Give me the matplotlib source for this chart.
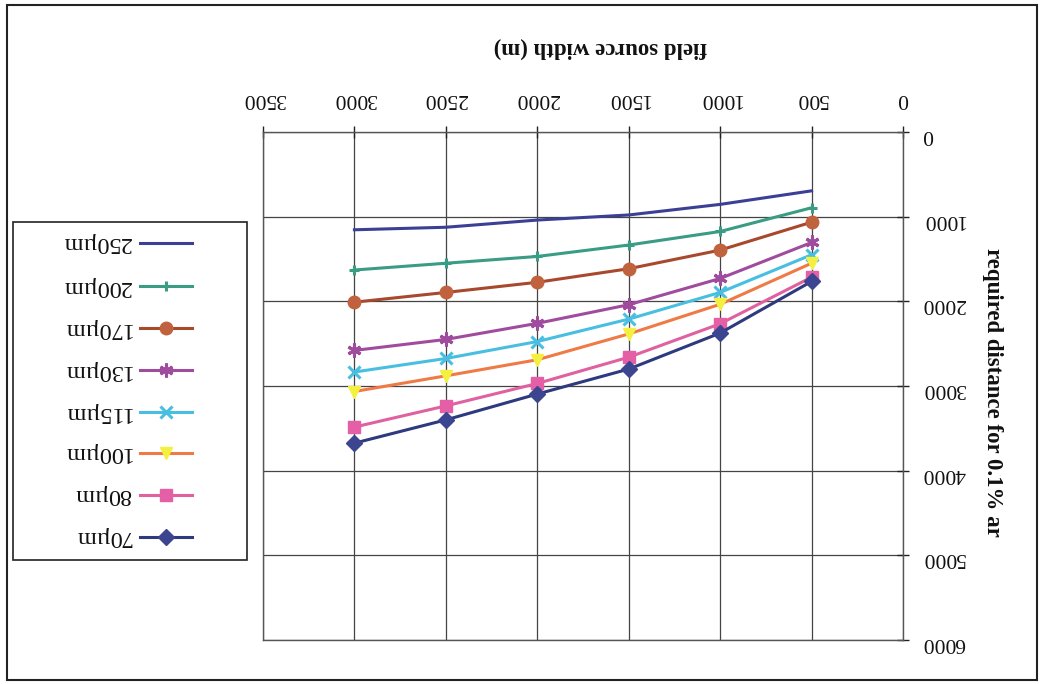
import matplotlib
matplotlib.use("Agg")
import matplotlib.pyplot as plt
from matplotlib.lines import Line2D
from matplotlib.patches import Rectangle

plt.rcParams['font.family'] = ['Liberation Serif', 'DejaVu Serif']

# Data (field source width in m, required distance in m)
widths = [500, 1000, 1500, 2000, 2500, 3000]
d_250 = [695, 855, 980, 1040, 1125, 1155]
d_200 = [895, 1175, 1335, 1470, 1550, 1630]
d_170 = [1065, 1395, 1615, 1775, 1895, 2010]
d_130 = [1305, 1730, 2040, 2260, 2450, 2580]
d_115 = [1450, 1895, 2210, 2475, 2675, 2835]
d_100 = [1550, 2035, 2385, 2690, 2880, 3065]
d_80 = [1715, 2265, 2660, 2970, 3235, 3485]
d_70 = [1765, 2375, 2800, 3095, 3400, 3675]

labels = ['250µm', '200µm', '170µm', '130µm', '115µm', '100µm', '80µm', '70µm']
series = [d_250, d_200, d_170, d_130, d_115, d_100, d_80, d_70]
line_colors = ['#3b3f95', '#3a9c84', '#a8482c', '#a04c9e', '#48bfe0', '#f07a45', '#e0619f', '#2e3a7e']
marker_faces = ['#3b3f95', '#3a9c84', '#c0623e', '#a04c9e', '#48bfe0', '#f4f040', '#e45fa6', '#3b4590']
markers = [None, '+', 'o', (6, 2, 0), 'x', 'v', 's', 'D']
msizes = [0, 7, 9, 10, 8, 9, 8, 8]

x_ticks = [0, 500, 1000, 1500, 2000, 2500, 3000, 3500]
y_ticks = [0, 1000, 2000, 3000, 4000, 5000, 6000]

W, H = 1042, 684
fig = plt.figure(figsize=(W / 100, H / 100), dpi=100)

def fx(px):
    return px / W

def fy(py):
    return 1 - py / H

def edge_width(mk):
    return 2.2 if mk in ('+', 'x') or isinstance(mk, tuple) else 1

def edge_color(mk, lc, mf):
    return lc if (mk in ('+', 'x') or isinstance(mk, tuple)) else mf

ax = fig.add_axes([fx(263), fy(640), fx(903) - fx(263), fy(132) - fy(640)])
ax.set_xlim(3500, 0)
ax.set_ylim(6000, 0)
ax.set_xticks(x_ticks)
ax.set_yticks(y_ticks)
ax.xaxis.tick_top()
ax.yaxis.tick_right()
ax.tick_params(axis='both', direction='inout', length=9, width=1, colors='#222222', labelsize=15.5, labelcolor='#111111')
ax.tick_params(axis='x', pad=13)
ax.tick_params(axis='y', pad=9)
for t in ax.get_xticklabels() + ax.get_yticklabels():
    t.set_rotation(180)
ax.grid(True, color='#444444', linewidth=0.9)
for s in ax.spines.values():
    s.set_color('#555555')
    s.set_linewidth(1)

for y, lab, lc, mf, mk, ms in zip(series, labels, line_colors, marker_faces, markers, msizes):
    ax.plot(widths, y, color=lc, linewidth=2.2, marker=mk if mk else None,
            markersize=ms, markerfacecolor=mf, markeredgecolor=edge_color(mk, lc, mf),
            markeredgewidth=edge_width(mk), zorder=3)

fig.text(fx(600), fy(48), 'field source width (m)', rotation=180, ha='center', va='center',
         fontsize=16.5, fontweight='bold', color='#111111')
fig.text(fx(993), fy(392), 'required distance for 0.1% ar', rotation=270, ha='center', va='center',
         fontsize=16.5, fontweight='bold', color='#111111')

# Legend (drawn upside-down)
fig.patches.append(Rectangle((fx(13), fy(560)), fx(247) - fx(13), fy(222) - fy(560),
                             transform=fig.transFigure, fill=False, edgecolor='#222222', linewidth=1.2))
leg_y = [243, 286, 328, 370, 412, 453, 495, 537]
for py, lab, lc, mf, mk, ms in zip(leg_y, labels, line_colors, marker_faces, markers, msizes):
    ln = Line2D([fx(140), fx(166), fx(192)], [fy(py)] * 3, transform=fig.transFigure,
                color=lc, linewidth=2.2, marker=mk if mk else None, markevery=[1],
                markersize=ms, markerfacecolor=mf,
                markeredgecolor=edge_color(mk, lc, mf),
                markeredgewidth=edge_width(mk))
    fig.lines.append(ln)
    fig.text(fx(131), fy(py), lab, rotation=180, rotation_mode='anchor', ha='left', va='center',
             fontsize=17.5, color='#111111')

# Outer chart border
fig.patches.append(Rectangle((fx(7), fy(680)), fx(1037) - fx(7), fy(5) - fy(680),
                             transform=fig.transFigure, fill=False, edgecolor='#222222', linewidth=1.5))

fig.savefig('out.png', dpi=100)
